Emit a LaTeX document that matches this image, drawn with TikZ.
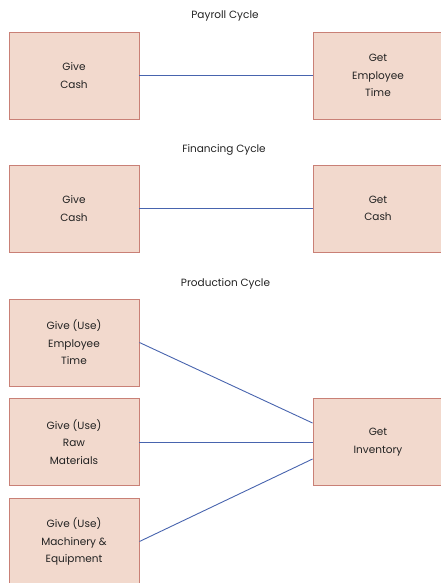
\documentclass[tikz,border=0pt]{standalone}
\usepackage{fontspec}
\setmainfont{Poppins}
\begin{document}
\begin{tikzpicture}[x=1pt,y=-1pt,
  box/.style={draw=boxedge, fill=boxfill, line width=0.9pt, minimum width=130pt,
    minimum height=87pt, align=center, inner sep=0pt, text=textgray,
    font=\fontsize{10.5}{17.5}\selectfont},
  title/.style={font=\fontsize{10.5}{13}\selectfont, inner sep=0pt, text=textgray},
  link/.style={draw=linkblue, line width=0.9pt}]
\definecolor{boxfill}{HTML}{F2D9CD}
\definecolor{boxedge}{HTML}{C98076}
\definecolor{linkblue}{HTML}{4864AE}
\definecolor{textgray}{HTML}{222222}
\useasboundingbox (0,0) rectangle (441,583);
\clip (0,0) rectangle (441,583);

% Payroll cycle
\node[title] (tpay) at (225,15.5) {Payroll Cycle};
\node[box] (paygive) at (74,75.5) {Give\\Cash};
\node[box] (payget) at (378,75.5) {Get\\Employee\\Time};
\draw[link] (paygive.east) -- (payget.west);

% Financing cycle
\node[title] (tfin) at (224,150) {Financing Cycle};
\node[box] (fingive) at (74,208.5) {Give\\Cash};
\node[box] (finget) at (378,208.5) {Get\\Cash};
\draw[link] (fingive.east) -- (finget.west);

% Production cycle
\node[title] (tprod) at (225.5,284) {Production Cycle};
\node[box] (usetime) at (74,342.5) {Give (Use)\\Employee\\Time};
\node[box] (useraw) at (74,442) {Give (Use)\\Raw\\Materials};
\node[box] (usemach) at (74,541.5) {Give (Use)\\Machinery \&\\Equipment};
\node[box] (inv) at (378,442) {Get\\Inventory};
\draw[link] (usetime.east) -- ([yshift=19pt]inv.west);
\draw[link] (useraw.east) -- (inv.west);
\draw[link] (usemach.east) -- ([yshift=-17pt]inv.west);
\end{tikzpicture}
\end{document}
